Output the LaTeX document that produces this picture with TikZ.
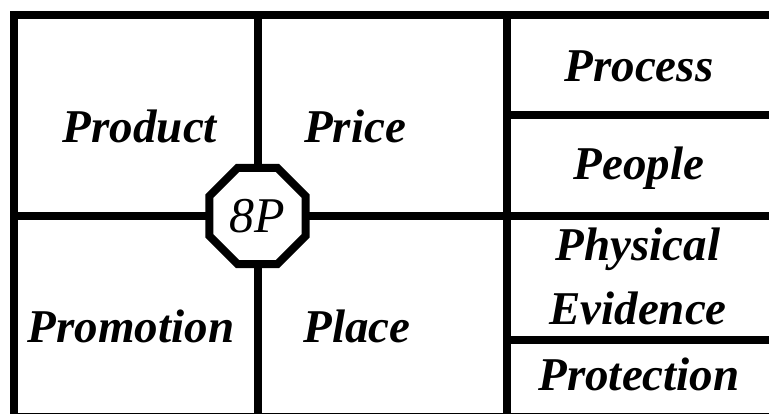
\documentclass[tikz,border=0pt]{standalone}
\usepackage{fontspec}
\setmainfont{Liberation Serif}
\usetikzlibrary{shapes.geometric}
\begin{document}
\begin{tikzpicture}[x=1pt,y=-1pt,
    grid/.style={line width=8pt},
    cell/.style={font=\fontsize{47}{65}\selectfont\bfseries\itshape,anchor=base,inner sep=0pt,align=center},
    hub/.style={regular polygon,regular polygon sides=8,draw,line width=8pt,fill=white,
        minimum size=104pt,inner sep=0pt,font=\fontsize{50}{52}\selectfont\itshape}]
    \useasboundingbox (0,0) rectangle (769,414);
    \coordinate (nw) at (13.5,15);
    \coordinate (se) at (773,417);
    \coordinate (t1) at (257.5,15);
    \coordinate (b1) at (257.5,417);
    \coordinate (t2) at (506.5,15);
    \coordinate (b2) at (506.5,417);
    \coordinate (l0) at (13.5,216);
    \coordinate (r0) at (773,216);
    \coordinate (l1) at (506.5,115);
    \coordinate (r1) at (773,115);
    \coordinate (l2) at (506.5,340);
    \coordinate (r2) at (773,340);
    \draw[grid] (nw) rectangle (se);
    \draw[grid] (t1) -- (b1);
    \draw[grid] (t2) -- (b2);
    \draw[grid] (l0) -- (r0);
    \draw[grid] (l1) -- (r1);
    \draw[grid] (l2) -- (r2);
    \node[hub] (eightp) at (257.5,216) {8P};
    \node[cell] (product) at (140,143) {Product};
    \node[cell] (price) at (355,143) {Price};
    \node[cell] (promotion) at (131,342) {Promotion};
    \node[cell] (place) at (357,342) {Place};
    \node[cell] (process) at (639,82) {Process};
    \node[cell] (people) at (639,180) {People};
    \node[cell] (evidence) at (638,325) {Physical\\Evidence};
    \node[cell] (protection) at (639,390) {Protection};
\end{tikzpicture}
\end{document}
